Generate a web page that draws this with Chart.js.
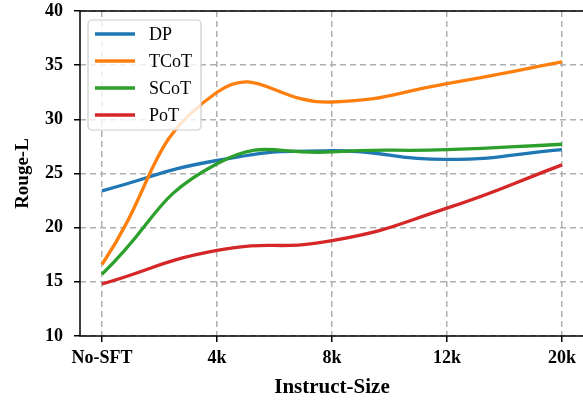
<!DOCTYPE html>
<html>
<head>
<meta charset="utf-8">
<script src="https://cdn.jsdelivr.net/npm/chart.js@4.4.0/dist/chart.umd.min.js"></script>
<style>
  html, body { margin: 0; padding: 0; background: #fff; overflow: hidden; }
  #wrap { width: 585px; height: 402px; }
</style>
</head>
<body>
<div id="wrap"><canvas id="lineChart" width="585" height="402"></canvas></div>
<script>
// categories + values
var categories = ['No-SFT', '4k', '8k', '12k', '20k'];
var seriesNames = ['DP', 'TCoT', 'SCoT', 'PoT'];
var dpValues = [23.4, 26.2, 27.1, 26.3, 27.2];
var tcotValues = [16.6, 32.5, 31.6, 33.3, 35.3];
var scotValues = [15.7, 25.9, 27.0, 27.2, 27.7];
var potValues = [14.8, 17.9, 18.8, 21.8, 25.8];
var yTicks = [10, 15, 20, 25, 30, 35, 40];

var colors = ['#1f77b4', '#ff7f0e', '#2ca02c', '#d62728'];
var allValues = [dpValues, tcotValues, scotValues, potValues];
var serif = "'Liberation Serif', 'Times New Roman', serif";

function toPoints(arr) {
    return arr.map(function (v, i) { return { x: i, y: v }; });
}

var datasets = allValues.map(function (vals, i) {
    return {
        label: seriesNames[i],
        data: toPoints(vals),
        borderColor: colors[i],
        backgroundColor: colors[i],
        borderWidth: 3.3,
        pointRadius: 0,
        tension: 0.5,
        fill: false,
        order: 4 - i
    };
});

// axes box (spines)
var framePlugin = {
    id: 'frame',
    afterDatasetsDraw: function (chart) {
        var a = chart.chartArea, ctx = chart.ctx;
        ctx.save();
        ctx.strokeStyle = '#000';
        ctx.lineWidth = 1.5;
        ctx.strokeRect(a.left, a.top, a.right - a.left, a.bottom - a.top);
        ctx.restore();
    }
};

// legend box, top left like matplotlib
var legendPlugin = {
    id: 'boxLegend',
    afterDraw: function (chart) {
        var a = chart.chartArea, ctx = chart.ctx;
        var x = a.left + 8, y = a.top + 9, w = 113, h = 110, r = 4;
        ctx.save();
        ctx.fillStyle = 'rgba(255,255,255,0.8)';
        ctx.strokeStyle = '#cccccc';
        ctx.lineWidth = 1.2;
        ctx.beginPath();
        ctx.roundRect(x, y, w, h, r);
        ctx.fill();
        ctx.stroke();
        ctx.font = '18px ' + serif;
        ctx.textBaseline = 'middle';
        chart.data.datasets.forEach(function (ds, i) {
            var cy = y + 14 + i * 27;
            ctx.strokeStyle = ds.borderColor;
            ctx.lineWidth = 3.3;
            ctx.beginPath();
            ctx.moveTo(x + 7, cy);
            ctx.lineTo(x + 47, cy);
            ctx.stroke();
            ctx.fillStyle = '#000';
            ctx.fillText(ds.label, x + 61, cy + 1);
        });
        ctx.restore();
    }
};

new Chart(document.getElementById('lineChart'), {
    type: 'line',
    data: { datasets: datasets },
    plugins: [framePlugin, legendPlugin],
    options: {
        responsive: false,
        animation: false,
        layout: { padding: { top: 11, right: 1, left: 0, bottom: 0 } },
        plugins: {
            legend: { display: false },
            tooltip: { enabled: false }
        },
        scales: {
            x: {
                type: 'linear',
                min: -0.191,
                max: 4.191,
                afterBuildTicks: function (scale) {
                    scale.ticks = categories.map(function (c, i) { return { value: i }; });
                },
                afterFit: function (scale) {
                    scale.height = 66;
                    scale.paddingLeft = 0;
                    scale.paddingRight = 0;
                },
                ticks: {
                    callback: function (v) { return categories[v]; },
                    color: '#000',
                    font: { family: serif, size: 18, weight: 'bold' },
                    padding: 6,
                    maxRotation: 0
                },
                grid: {
                    color: '#b0b0b0',
                    lineWidth: 1.5,
                    tickColor: '#000',
                    tickWidth: 1.5,
                    tickLength: 6,
                    tickBorderDash: []
                },
                border: { display: false, dash: [6, 4] },
                title: {
                    display: true,
                    text: 'Instruct-Size',
                    color: '#000',
                    font: { family: serif, size: 21, weight: 'bold' },
                    padding: { top: 0, bottom: 2 }
                }
            },
            y: {
                min: 10,
                max: 40,
                afterBuildTicks: function (scale) {
                    scale.ticks = yTicks.map(function (v) { return { value: v }; });
                },
                afterFit: function (scale) {
                    scale.width = 80;
                    scale.paddingTop = 0;
                    scale.paddingBottom = 0;
                },
                ticks: {
                    color: '#000',
                    font: { family: serif, size: 18, weight: 'bold' },
                    padding: 11
                },
                grid: {
                    color: '#b0b0b0',
                    lineWidth: 1.5,
                    tickColor: '#000',
                    tickWidth: 1.5,
                    tickLength: 6,
                    tickBorderDash: []
                },
                border: { display: false, dash: [6, 4] },
                title: {
                    display: true,
                    text: 'Rouge-L',
                    color: '#000',
                    font: { family: serif, size: 19, weight: 'bold' },
                    padding: { top: 12, bottom: 0 }
                }
            }
        }
    }
});
</script>
</body>
</html>
